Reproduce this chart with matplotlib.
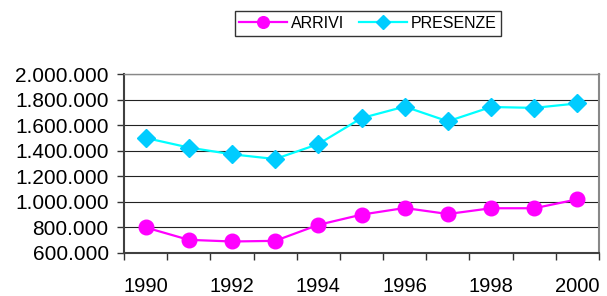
import matplotlib
matplotlib.use("Agg")
import matplotlib.pyplot as plt
from matplotlib.ticker import FuncFormatter, FixedLocator

plt.rcParams['font.family'] = ['Liberation Sans', 'DejaVu Sans']

years = [1990, 1991, 1992, 1993, 1994, 1995, 1996, 1997, 1998, 1999, 2000]
arrivi = [800000, 703000, 690000, 695000, 820000, 900000, 952000, 905000, 950000, 950000, 1020000]
presenze = [1500000, 1425000, 1372000, 1335000, 1452000, 1655000, 1745000, 1630000, 1742000, 1735000, 1770000]

fig = plt.figure(figsize=(6.07, 2.96), dpi=100)
ax = fig.add_axes([124 / 607, 1 - 253 / 296, (599 - 124) / 607, (253 - 74) / 296])

x = list(range(len(years)))
ax.plot(x, arrivi, color='#FF00FF', lw=1.6, marker='o', markersize=10.5,
        markerfacecolor='#FF00FF', markeredgecolor='#FF00FF', label='ARRIVI', zorder=3)
ax.plot(x, presenze, color='#00FFFF', lw=1.6, marker='D', markersize=9,
        markerfacecolor='#00CCFF', markeredgecolor='#00CCFF', label='PRESENZE', zorder=3)

ax.set_xlim(-0.5, len(years) - 0.5)
ax.set_ylim(600000, 2000000)
ax.set_yticks(range(600000, 2000001, 200000))
ax.yaxis.set_major_formatter(FuncFormatter(lambda v, p: f"{v:,.0f}".replace(",", ".")))

ax.set_xticks(x[::2])
ax.set_xticklabels([str(y) for y in years[::2]])
ax.xaxis.set_minor_locator(FixedLocator([i - 0.5 for i in range(len(years) + 1)]))
ax.tick_params(axis='x', which='major', length=0, pad=17, labelsize=14.5)
ax.tick_params(axis='x', which='minor', length=5, width=1, direction='out', color='#333333')
ax.tick_params(axis='y', length=5, width=1, direction='out', pad=6, labelsize=15, color='#333333')

ax.grid(axis='y', color='#222222', lw=0.8)
ax.set_axisbelow(True)

for s in ['left', 'bottom']:
    ax.spines[s].set_color('#404040')
    ax.spines[s].set_linewidth(1.5)
ax.spines['right'].set_color('#888888')
ax.spines['right'].set_linewidth(1.5)
ax.spines['top'].set_color('#888888')
ax.spines['top'].set_linewidth(1.0)

leg = fig.legend(loc='center', bbox_to_anchor=(368 / 607, 1 - 23.5 / 296), ncol=2,
                 fontsize=11.5, frameon=True, fancybox=False, edgecolor='black',
                 handlelength=3.0, markerscale=0.8, columnspacing=0.9,
                 handletextpad=0.25, borderpad=0.3)
leg.get_frame().set_linewidth(1.0)

fig.savefig('out.png', dpi=100)
